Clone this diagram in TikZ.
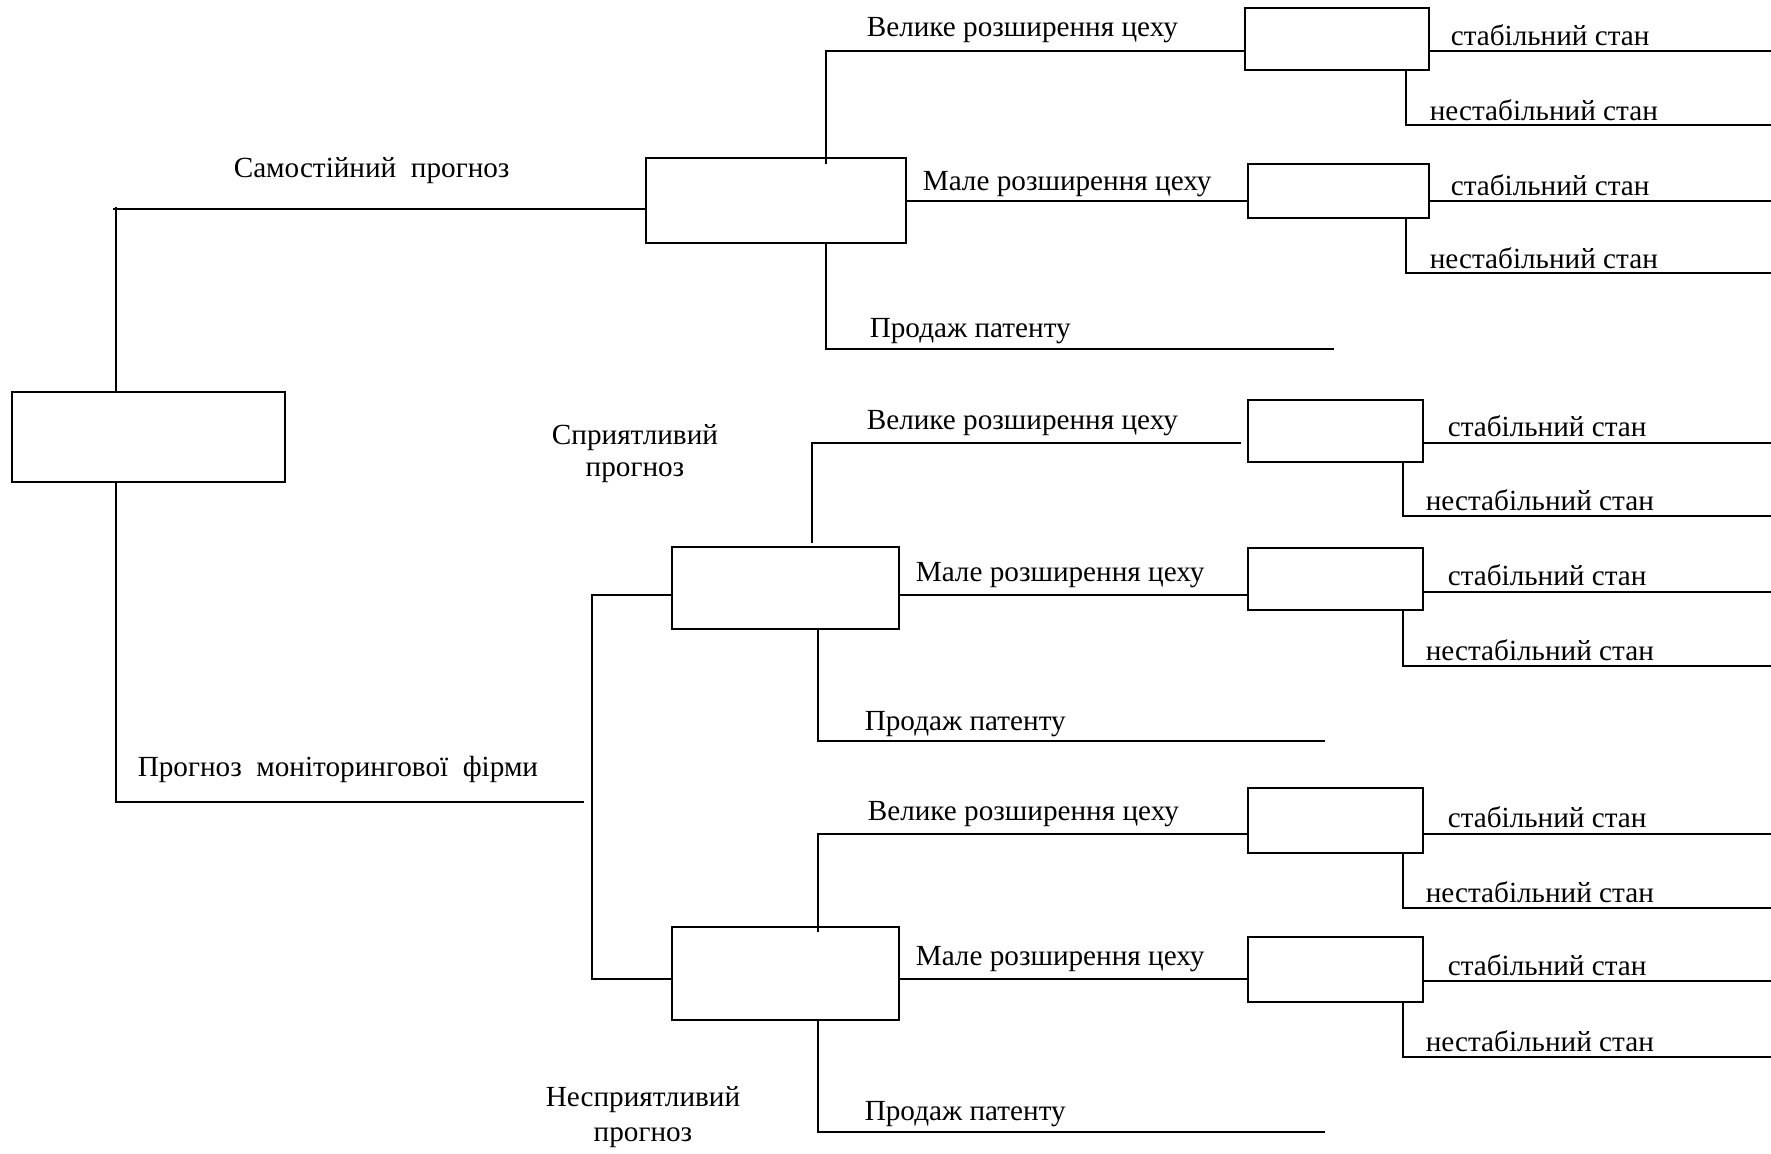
\documentclass[tikz,border=0pt]{standalone}
\usepackage{fontspec}
\setmainfont{Liberation Serif}
\begin{document}
\begin{tikzpicture}[x=0.5pt,y=-0.5pt,
  line width=0.8pt,
  every node/.style={font=\fontsize{14.6}{17.5}\selectfont},
  box/.style={draw,line width=0.8pt,inner sep=0pt},
  lbl/.style={anchor=base west,inner sep=0pt},
  clbl/.style={anchor=base,inner sep=0pt}]
\useasboundingbox (0,0) rectangle (1771,1153);
% decision boxes
\node[box,minimum width=136.5pt,minimum height=45pt] (root) at (148.5,437) {};
\node[box,minimum width=130pt,minimum height=42.5pt] (A) at (776,200.5) {};
\node[box,minimum width=92pt,minimum height=31pt] (A1) at (1337,39) {};
\node[box,minimum width=90.5pt,minimum height=27pt] (A2) at (1338.5,191) {};
\node[box,minimum width=113.5pt,minimum height=41pt] (B) at (785.5,588) {};
\node[box,minimum width=87.5pt,minimum height=31pt] (B1) at (1335.5,431) {};
\node[box,minimum width=87.5pt,minimum height=31pt] (B2) at (1335.5,579) {};
\node[box,minimum width=113.5pt,minimum height=46.5pt] (C) at (785.5,973.5) {};
\node[box,minimum width=87.5pt,minimum height=32.5pt] (C1) at (1335.5,820.5) {};
\node[box,minimum width=87.5pt,minimum height=32.5pt] (C2) at (1335.5,969.5) {};
% free ends
\coordinate (eA1s) at (1771,51);
\coordinate (eA1n) at (1771,125);
\coordinate (eA2s) at (1771,201);
\coordinate (eA2n) at (1771,273);
\coordinate (eB1s) at (1771,443);
\coordinate (eB1n) at (1771,516);
\coordinate (eB2s) at (1771,592);
\coordinate (eB2n) at (1771,666);
\coordinate (eC1s) at (1771,834);
\coordinate (eC1n) at (1771,908);
\coordinate (eC2s) at (1771,981);
\coordinate (eC2n) at (1771,1057);
\coordinate (pA) at (1334,349);
\coordinate (pB) at (1325,741);
\coordinate (pC) at (1325,1132);
\coordinate (mon) at (584,802);
\coordinate (j) at (592,595);
% root connectors
\draw (root.north -| 116,0) -- (116,207);
\draw (113,209) -- (A.west |- 0,209);
\draw (root.south -| 116,0) |- (mon);
\draw (B.west |- j) -- (j) -- (592,979) -- (C.west |- 0,979);
% A branches
\draw (826,164) |- (A1.west |- 0,51);
\draw (A.east |- 0,201) -- (A2.west |- 0,201);
\draw (A.south -| 826,0) |- (pA);
\draw (A1.east |- eA1s) -- (eA1s);
\draw (A1.south -| 1406,0) |- (eA1n);
\draw (A2.east |- eA2s) -- (eA2s);
\draw (A2.south -| 1406,0) |- (eA2n);
% B branches
\draw (B.north -| 812,0) ++(0,-3) |- (1241,443);
\draw (B.east |- 0,595) -- (B2.west |- 0,595);
\draw (B.south -| 818,0) |- (pB);
\draw (B1.east |- eB1s) -- (eB1s);
\draw (B1.south -| 1403,0) |- (eB1n);
\draw (B2.east |- eB2s) -- (eB2s);
\draw (B2.south -| 1403,0) |- (eB2n);
% C branches
\draw (818,932) |- (C1.west |- 0,834);
\draw (C.east |- 0,979) -- (C2.west |- 0,979);
\draw (C.south -| 818,0) |- (pC);
\draw (C1.east |- eC1s) -- (eC1s);
\draw (C1.south -| 1403,0) |- (eC1n);
\draw (C2.east |- eC2s) -- (eC2s);
\draw (C2.south -| 1403,0) |- (eC2n);
% labels
\node[lbl] (t1) at (233,177) {Самостійний\ \ прогноз};
\node[lbl] (t2) at (137,776) {Прогноз\ \ моніторингової\ \ фірми};
\node[clbl] (t3) at (635,444) {Сприятливий};
\node[clbl] (t4) at (635,476) {прогноз};
\node[clbl] (t5) at (643,1106) {Несприятливий};
\node[clbl] (t6) at (643,1141) {прогноз};
\node[lbl] (la1) at (866,36) {Велике розширення цеху};
\node[lbl] (la2) at (922,190) {Мале розширення цеху};
\node[lbl] (la3) at (869,337) {Продаж патенту};
\node[lbl] (la4) at (1450,45) {стабільний стан};
\node[lbl] (la5) at (1429,120) {нестабільний стан};
\node[lbl] (la6) at (1450,195) {стабільний стан};
\node[lbl] (la7) at (1429,268) {нестабільний стан};
\node[lbl] (lb1) at (866,429) {Велике розширення цеху};
\node[lbl] (lb2) at (915,581) {Мале розширення цеху};
\node[lbl] (lb3) at (864,730) {Продаж патенту};
\node[lbl] (lb4) at (1447,436) {стабільний стан};
\node[lbl] (lb5) at (1425,510) {нестабільний стан};
\node[lbl] (lb6) at (1447,585) {стабільний стан};
\node[lbl] (lb7) at (1425,660) {нестабільний стан};
\node[lbl] (lc1) at (867,820) {Велике розширення цеху};
\node[lbl] (lc2) at (915,965) {Мале розширення цеху};
\node[lbl] (lc3) at (864,1120) {Продаж патенту};
\node[lbl] (lc4) at (1447,827) {стабільний стан};
\node[lbl] (lc5) at (1425,902) {нестабільний стан};
\node[lbl] (lc6) at (1447,975) {стабільний стан};
\node[lbl] (lc7) at (1425,1051) {нестабільний стан};
\end{tikzpicture}
\end{document}
